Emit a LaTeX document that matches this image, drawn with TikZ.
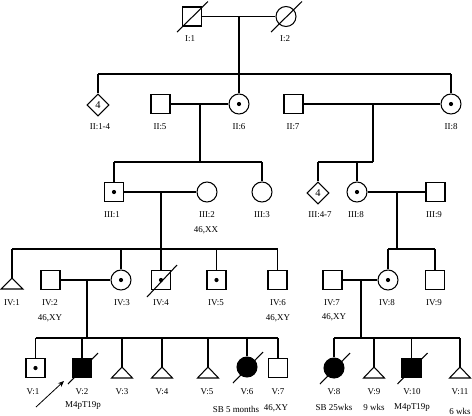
\documentclass[tikz,border=0pt]{standalone}
\usepackage{fontspec}
\setmainfont{Liberation Serif}
\usetikzlibrary{shapes.geometric,arrows.meta,calc}
\begin{document}
\begin{tikzpicture}[x=1bp,y=-1bp,line width=1.05bp,
  male/.style={draw,rectangle,minimum size=19bp,inner sep=0pt,fill=white},
  female/.style={draw,circle,minimum size=20bp,inner sep=0pt,fill=white},
  unk/.style={draw,diamond,minimum size=22bp,inner sep=0pt,fill=white,font=\fontsize{10.5}{10.5}\selectfont},
  aff/.style={fill=black},
  lbl/.style={font=\fontsize{9}{10}\selectfont,inner sep=0pt},
]
\useasboundingbox (0,0) rectangle (472,415);

% ---------- connector coordinates ----------
\coordinate (m1) at (239,16.5);  \coordinate (s1) at (239,74);
\coordinate (m2) at (200,104);   \coordinate (s2) at (200,162);
\coordinate (m3) at (373,104);   \coordinate (s3) at (373,162);
\coordinate (m4) at (161,192);   \coordinate (s4) at (161,249);
\coordinate (m5) at (397,192);   \coordinate (s5) at (397,249);
\coordinate (m6) at (87,280);    \coordinate (s6) at (87,338);
\coordinate (m7) at (361,280);   \coordinate (s7) at (361,338);

% ---------- Generation I ----------
\node[male]   (I1) at (192,16.5) {};
\node[female] (I2) at (286,16.5) {};
\draw (I1) -- (I2);
\draw (m1) -- (s1);

% ---------- Generation II ----------
\node[unk]    (II14) at (98,105) {4};
\node[male]   (II5)  at (160.5,104) {};
\node[female] (II6)  at (239,104) {};
\node[male]   (II7)  at (293.5,104) {};
\node[female] (II8)  at (451,104) {};
\draw (II14 |- s1) -- (II8 |- s1);
\draw (II14 |- s1) -- (II14.north);
\draw (s1) -- (II6.north);
\draw (II8 |- s1) -- (II8.north);
\draw (II5) -- (II6);
\draw (II7) -- (II8);
\draw (m2) -- (s2);
\draw (m3) -- (s3);

% ---------- Generation III ----------
\node[male]   (III1)  at (114,192) {};
\node[female] (III2)  at (207,192) {};
\node[female] (III3)  at (262,192) {};
\node[unk]    (III47) at (318,193) {4};
\node[female] (III8)  at (357,192) {};
\node[male]   (III9)  at (435.5,192) {};
\draw (III1 |- s2) -- (III3 |- s2);
\draw (III1 |- s2) -- (III1.north);
\draw (III3 |- s2) -- (III3.north);
\draw (III47 |- s3) -- (s3);
\draw (III47 |- s3) -- (III47.north);
\draw (III8 |- s3) -- (III8.north);
\draw (III1) -- (III2);
\draw (III8) -- (III9);
\draw (m4) -- (s4);
\draw (m5) -- (s5);

% ---------- Generation IV ----------
\coordinate (IV1) at (12,278);
\node[male]   (IV2) at (50.5,280) {};
\node[female] (IV3) at (121,280) {};
\node[male]   (IV4) at (161,280) {};
\node[male]   (IV5) at (216.5,280) {};
\node[male]   (IV6) at (277.5,280) {};
\node[male]   (IV7) at (332.5,280) {};
\node[female] (IV8) at (388,280) {};
\node[male]   (IV9) at (435,280) {};
\draw (IV1 |- s4) -- (IV6 |- s4);
\draw (IV1 |- s4) -- (IV1);
\draw (IV1) -- ++(-11,11) -- ++(22,0) -- cycle;
\draw (IV3 |- s4) -- (IV3.north);
\draw (s4) -- (IV4.north);
\draw (IV5 |- s4) -- (IV5.north);
\draw (IV6 |- s4) -- (IV6.north);
\draw (IV8 |- s5) -- (IV9 |- s5);
\draw (IV8 |- s5) -- (IV8.north);
\draw (IV9 |- s5) -- (IV9.north);
\draw (IV2) -- (IV3);
\draw (IV7) -- (IV8);
\draw (m6) -- (s6);
\draw (m7) -- (s7);
\draw (IV4) ++(-14,17) -- ++(30,-32);

% ---------- Generation V ----------
\node[male]        (V1)  at (35.5,368) {};
\node[male,aff]    (V2)  at (82,368) {};
\coordinate        (V3)  at (122,367);
\coordinate        (V4)  at (162,367);
\coordinate        (V5)  at (208,367);
\node[female,aff]  (V6)  at (247,367) {};
\node[male]        (V7)  at (278,368) {};
\node[female,aff]  (V8)  at (334,368) {};
\coordinate        (V9)  at (374,367);
\node[male,aff]    (V10) at (411.5,368) {};
\coordinate        (V11) at (460,367);
\draw (V1 |- s6) -- (V7 |- s6);
\foreach \n in {V1,V2,V6,V7} \draw (\n |- s6) -- (\n.north);
\foreach \n in {V3,V4,V5} {
  \draw (\n |- s6) -- (\n);
  \draw (\n) -- ++(-10.5,11) -- ++(21,0) -- cycle;
}
\draw (V8 |- s7) -- (V11 |- s7);
\foreach \n in {V8,V10} \draw (\n |- s7) -- (\n.north);
\foreach \n in {V9,V11} {
  \draw (\n |- s7) -- (\n);
  \draw (\n) -- ++(-10.5,11) -- ++(21,0) -- cycle;
}

% ---------- deceased slashes ----------
\foreach \n in {I1,I2} \draw (\n) ++(-15,15.5) -- ++(31,-30.5);
\foreach \n in {V2,V6,V8,V10} \draw (\n) ++(-14,16) -- ++(30,-31);

% ---------- carrier dots ----------
\foreach \n in {II6,II8,III1,III8,IV3,IV4,IV5,IV8,V1} \fill (\n) circle (2.1bp);

% ---------- proband arrow ----------
\coordinate (pa) at (36,407);
\coordinate (pb) at (64,381);
\draw[-{Stealth[length=6bp,width=5bp]},line width=0.8bp] (pa) -- (pb);

% ---------- labels ----------
\node[lbl] (lI1) at (190,39) {I:1};
\node[lbl] (lI2) at (285,39) {I:2};
\node[lbl] (lII14) at (100,127) {II:1-4};
\node[lbl] (lII5) at (160,127) {II:5};
\node[lbl] (lII6) at (239,127) {II:6};
\node[lbl] (lII7) at (293,127) {II:7};
\node[lbl] (lII8) at (451,127) {II:8};
\node[lbl] (lIII1) at (112,215) {III:1};
\node[lbl] (lIII2) at (207,215) {III:2};
\node[lbl] (lIII3) at (262,215) {III:3};
\node[lbl] (lIII47) at (320,215) {III:4-7};
\node[lbl] (lIII8) at (356,215) {III:8};
\node[lbl] (lIII9) at (434,215) {III:9};
\node[lbl] (kIII2) at (206,230) {46,XX};
\node[lbl] (lIV1) at (12,303) {IV:1};
\node[lbl] (lIV2) at (50,303) {IV:2};
\node[lbl] (lIV3) at (122,303) {IV:3};
\node[lbl] (lIV4) at (161,303) {IV:4};
\node[lbl] (lIV5) at (216,303) {IV:5};
\node[lbl] (lIV6) at (278,303) {IV:6};
\node[lbl] (lIV7) at (332,303) {IV:7};
\node[lbl] (lIV8) at (387,303) {IV:8};
\node[lbl] (lIV9) at (434,303) {IV:9};
\node[lbl] (kIV2) at (50,318) {46,XY};
\node[lbl] (kIV6) at (278,318) {46,XY};
\node[lbl] (kIV7) at (334,317) {46,XY};
\node[lbl] (lV1) at (33,392) {V:1};
\node[lbl] (lV2) at (82,392) {V:2};
\node[lbl] (lV3) at (122,392) {V:3};
\node[lbl] (lV4) at (162,392) {V:4};
\node[lbl] (lV5) at (207,392) {V:5};
\node[lbl] (lV6) at (247,392) {V:6};
\node[lbl] (lV7) at (278,392) {V:7};
\node[lbl] (lV8) at (334,392) {V:8};
\node[lbl] (lV9) at (374,392) {V:9};
\node[lbl] (lV10) at (412,392) {V:10};
\node[lbl] (lV11) at (460,392) {V:11};
\node[lbl] (kV2) at (83,405) {M4pT19p};
\node[lbl] (kV6) at (236,409) {SB 5 months};
\node[lbl] (kV7) at (276,408) {46,XY};
\node[lbl] (kV8) at (334,407) {SB 25wks};
\node[lbl] (kV9) at (374,407) {9 wks};
\node[lbl] (kV10) at (412,407) {M4pT19p};
\node[lbl] (kV11) at (460,411) {6 wks};
\end{tikzpicture}
\end{document}
